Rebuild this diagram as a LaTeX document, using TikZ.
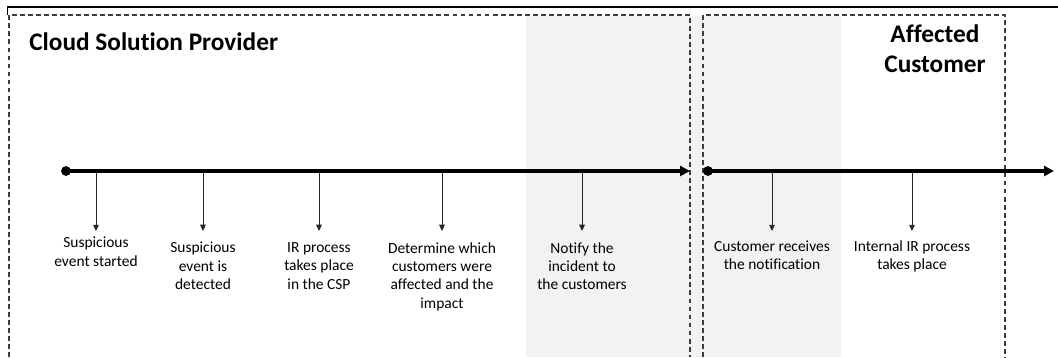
\documentclass[tikz,border=0pt]{standalone}
\usepackage{fontspec}
\setmainfont{Carlito}[Ligatures=NoCommon]
\usepackage{xcolor}
\definecolor{notifygray}{RGB}{242,242,242}
\definecolor{zonegray}{RGB}{60,60,60}
\usetikzlibrary{arrows.meta}

\begin{document}
\begin{tikzpicture}[x=0.025cm, y=-0.025cm,
    zone/.style={zonegray, line width=1pt, dash pattern=on 3.5pt off 2.2pt},
    timeline/.style={line width=2.2pt, -{Triangle[length=7pt, width=7pt]}},
    startdot/.style={circle, fill, inner sep=0pt, minimum size=7pt},
    tick/.style={line width=0.7pt, black!85, -{Triangle[length=4.5pt, width=4pt]}},
    event/.style={align=center, anchor=north, inner sep=0pt, font=\fontsize{11}{13.1}\selectfont},
    zonetitle/.style={inner sep=0pt, font=\fontsize{18}{22}\selectfont\bfseries}]
    \useasboundingbox (0,0) rectangle (1058,357);

    % Shaded notification band
    \fill[notifygray] (526,16) rectangle (841,357);

    % Outer frame
    \draw[line width=0.8pt] (7.5,15) -- (7.5,7) -- (1058,7);

    % Zones
    \draw[zone] (9,357) -- (9,15) -- (690,15) -- (690,357);
    \draw[zone] (703,357) -- (703,15) -- (1005,15) -- (1005,357);
    \node[zonetitle, anchor=base west] (csp) at (29,50) {Cloud Solution Provider};
    \node[zonetitle, anchor=north, align=center] (customer) at (935,24) {Affected\\Customer};

    % Timelines
    \node[startdot] (start1) at (66,171) {};
    \coordinate (end1) at (690,171);
    \node[startdot] (start2) at (708,171) {};
    \coordinate (end2) at (1054,171);
    \draw[timeline] (start1.center) -- (end1);
    \draw[timeline] (start2.center) -- (end2);

    % Events
    \coordinate (t1) at (96,172);
    \coordinate (t2) at (203,172);
    \coordinate (t3) at (319,172);
    \coordinate (t4) at (442,172);
    \coordinate (t5) at (582,172);
    \coordinate (t6) at (772,172);
    \coordinate (t7) at (912,172);
    \node[event] (ev1) at (96,237) {Suspicious\\event started};
    \node[event] (ev2) at (203,242) {Suspicious\\event is\\detected};
    \node[event] (ev3) at (319,242) {IR process\\takes place\\in the CSP};
    \node[event] (ev4) at (442,242) {Determine which\\customers were\\affected and the\\impact};
    \node[event] (ev5) at (582,242) {Notify the\\incident to\\the customers};
    \node[event] (ev6) at (772,240.5) {Customer receives\\the notification};
    \node[event] (ev7) at (912,240.5) {Internal IR process\\takes place};

    % Arrows
    \draw[tick, shorten >=4.2pt] (t1) -- (ev1);
    \draw[tick, shorten >=7.8pt] (t2) -- (ev2);
    \draw[tick, shorten >=7.8pt] (t3) -- (ev3);
    \draw[tick, shorten >=7.8pt] (t4) -- (ev4);
    \draw[tick, shorten >=7.8pt] (t5) -- (ev5);
    \draw[tick, shorten >=6.7pt] (t6) -- (ev6);
    \draw[tick, shorten >=6.7pt] (t7) -- (ev7);
\end{tikzpicture}
\end{document}
